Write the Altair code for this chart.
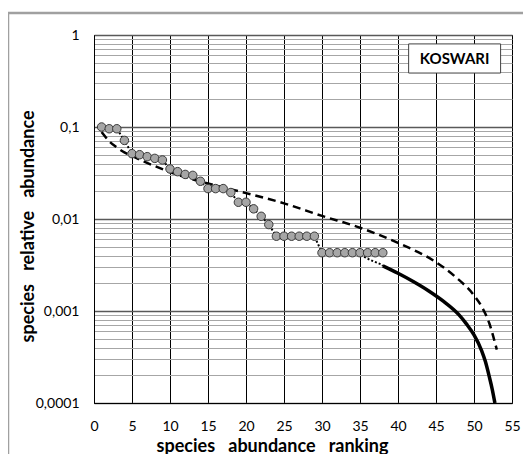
import altair as alt
import pandas as pd

# ---------------- data ----------------
rank = list(range(1, 39))
abundance = [0.100, 0.0957, 0.0957, 0.0715, 0.0513, 0.050, 0.0476, 0.0456, 0.0438, 0.035,
             0.0327, 0.0305, 0.0298, 0.0257, 0.0214, 0.0214, 0.0214, 0.0194, 0.0152, 0.0152,
             0.0129, 0.0107, 0.0087,
             0.0065, 0.0065, 0.0065, 0.0065, 0.0065, 0.0065,
             0.0043, 0.0043, 0.0043, 0.0043, 0.0043, 0.0043, 0.0043, 0.0043, 0.0043]

dashed_x = [1, 2, 3, 4, 5, 6, 8, 10, 12, 15, 20, 25, 30, 35, 40, 45, 47.5, 50, 51, 52, 53]
dashed_y = [0.088, 0.070, 0.060, 0.053, 0.0484, 0.0442, 0.0376, 0.0324, 0.0285, 0.0243, 0.0191,
            0.0148, 0.0108, 0.00804, 0.0055, 0.00339, 0.00237, 0.00148, 0.00112, 0.00074, 0.00038]

dotted_x = list(range(1, 35)) + [35, 36.3, 37.85, 38]
dotted_y = abundance[:34] + [0.0041, 0.0036, 0.0032, 0.0031]

solid_x = [38, 40, 42, 44, 46, 48, 49, 50, 51, 51.5, 52, 52.4, 52.75]
solid_y = [0.00309, 0.00257, 0.00209, 0.00166, 0.00127, 0.000912, 0.000724, 0.00055,
           0.000372, 0.000282, 0.000195, 0.000141, 0.0001]

x_ticks = list(range(0, 56, 5))
y_ticks = [m * 10.0 ** d for d in range(-4, 0) for m in range(1, 10)] + [1.0]

label_text = ["KOSWARI"]
box_x, box_x2, box_y, box_y2 = [41.4], [53.5], [0.80], [0.386]
label_x, label_y = [47.45], [0.555]

FONT = "Lato"
major = "abs(log(datum.value)/LN10 - round(log(datum.value)/LN10)) < 1e-6"

x_scale = alt.Scale(domain=[0, 55], nice=False, zero=False)
y_scale = alt.Scale(type="log", domain=[0.0001, 1], nice=False)

GAP = "\u00a0\u00a0 "
x_axis = alt.Axis(
    values=x_ticks, title=f"species{GAP}abundance{GAP}ranking",
    grid=True, gridColor="#000000", gridWidth=1, ticks=False,
    domainColor="#000000", domainWidth=1,
    labelFont=FONT, labelFontSize=14, labelColor="#000000", labelPadding=16,
    labelFlush=False, labelOverlap=False,
    titleFont=FONT, titleFontSize=18, titleFontWeight="bold", titleColor="#000000",
    titleX=178, titleY=43, titleAlign="center", titleBaseline="middle",
)
y_axis = alt.Axis(
    values=y_ticks, title=f"species{GAP}relative{GAP}abundance",
    labelExpr=f"{major} ? replace(format(datum.value, '~g'), '.', ',') : ''",
    grid=True,
    gridColor={"condition": {"test": major, "value": "#595959"}, "value": "#a6a6a6"},
    gridWidth={"condition": {"test": major, "value": 1.5}, "value": 1},
    ticks=False, domainColor="#000000", domainWidth=1,
    labelFont=FONT, labelFontSize=14, labelColor="#000000", labelPadding=15,
    labelFlush=False, labelOverlap=False, labelBaseline="middle",
    titleFont=FONT, titleFontSize=18, titleFontWeight="bold", titleColor="#000000",
    titleX=-66, titleY=191, titleAngle=-90, titleAlign="center", titleBaseline="middle",
)

pts_df = pd.DataFrame({"x": rank, "y": abundance})
dash_df = pd.DataFrame({"x": dashed_x, "y": dashed_y})
dot_df = pd.DataFrame({"x": dotted_x, "y": dotted_y})
sol_df = pd.DataFrame({"x": solid_x, "y": solid_y})
box_df = pd.DataFrame({"x": box_x, "x2": box_x2, "y": box_y, "y2": box_y2})
lab_df = pd.DataFrame({"x": label_x, "y": label_y, "t": label_text})

X = alt.X("x:Q", scale=x_scale, axis=x_axis)
Y = alt.Y("y:Q", scale=y_scale, axis=y_axis)

dashed = alt.Chart(dash_df).mark_line(color="#000000", strokeWidth=2.5,
                                      strokeDash=[8, 5], interpolate="monotone").encode(x=X, y=Y)
dotted = alt.Chart(dot_df).mark_line(color="#000000", strokeWidth=2,
                                     strokeDash=[2, 2]).encode(x=X, y=Y)
solid = alt.Chart(sol_df).mark_line(color="#000000", strokeWidth=3.5,
                                    interpolate="monotone", clip=True).encode(x=X, y=Y)
points = alt.Chart(pts_df).mark_circle(size=72, color="#a6a6a6", opacity=1,
                                       stroke="#3a3a3a", strokeWidth=1).encode(x=X, y=Y)

box = alt.Chart(box_df).mark_rect(fill="#ffffff", stroke="#404040", strokeWidth=1).encode(
    x=X, x2="x2:Q", y=Y, y2="y2:Q",
)
label = alt.Chart(lab_df).mark_text(font=FONT, fontSize=15, fontWeight="bold",
                                    color="#000000", baseline="middle", align="center").encode(
    x=X, y=Y, text="t:N",
)

one = pd.DataFrame({"a": [0]})
frame_top = alt.Chart(one).mark_rule(color="#a0a0a0", strokeWidth=2.5).encode(
    x=alt.value(-87), x2=alt.value(440), y=alt.value(-22))
frame_left = alt.Chart(one).mark_rule(color="#a0a0a0", strokeWidth=2.5).encode(
    x=alt.value(-86), y=alt.value(-23), y2=alt.value(450))

chart = alt.layer(
    dashed, frame_top, frame_left, dotted, solid, points, box, label
).properties(
    width=418, height=368,
    padding={"left": 86, "top": 27, "right": 11, "bottom": 51},
    autosize=alt.AutoSizeParams(type="none"),
    background="#ffffff",
).configure_view(stroke="#000000", strokeWidth=1)

chart.save("out.html", embed_options={"renderer": "svg", "actions": False})
